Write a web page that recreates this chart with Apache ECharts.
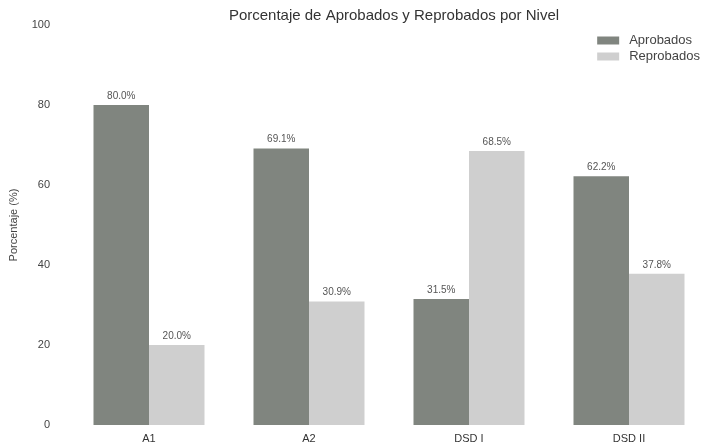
<!DOCTYPE html>
<html>
<head>
<meta charset="utf-8">
<script src="https://cdn.jsdelivr.net/npm/echarts@6/dist/echarts.min.js"></script>
<style>
  html, body { margin: 0; padding: 0; background: #fff; overflow: hidden; }
  /* a bit wider than the window: the reference crops the right margin */
  #chart { width: 712px; height: 447px; }
</style>
</head>
<body>
<div id="chart"></div>
<script>
const niveles = ["A1", "A2", "DSD I", "DSD II"];
const aprobados = [80.0, 69.1, 31.5, 62.2];
const reprobados = [20.0, 30.9, 68.5, 37.8];
const yTicks = [0, 20, 40, 60, 80, 100];

const font = "Liberation Sans, Arial, sans-serif";

const chart = echarts.init(document.getElementById("chart"), null, { renderer: "canvas" });

const valueLabel = {
  show: true,
  position: "top",
  distance: 4,
  formatter: (p) => p.value.toFixed(1) + "%",
  fontFamily: font,
  fontSize: 10,
  color: "#555",
};

chart.setOption({
  backgroundColor: "#fff",
  animation: false,
  title: {
    text: "Porcentaje de Aprobados y Reprobados por Nivel",
    left: 389,
    top: 3,
    textAlign: "center",
    textStyle: { fontFamily: font, fontSize: 15, fontWeight: "normal", color: "#333" },
  },
  legend: {
    right: 7,
    top: 29,
    orient: "vertical",
    itemWidth: 22,
    itemHeight: 8,
    itemGap: 3,
    icon: "rect",
    textStyle: { fontFamily: font, fontSize: 13, color: "#444", padding: [0, 0, 0, 5] },
    data: ["Aprobados", "Reprobados"],
  },
  grid: { left: 67, right: 3, top: 25, bottom: 22, containLabel: false },
  xAxis: {
    type: "category",
    data: niveles,
    axisLine: { show: false },
    axisTick: { show: false },
    axisLabel: { margin: 8, fontFamily: font, fontSize: 11, color: "#333" },
  },
  yAxis: {
    type: "value",
    min: yTicks[0],
    max: yTicks[yTicks.length - 1],
    interval: 20,
    name: "Porcentaje (%)",
    nameLocation: "middle",
    nameGap: 50,
    nameTextStyle: { fontFamily: font, fontSize: 11, color: "#444" },
    axisLine: { show: false },
    axisTick: { show: false },
    splitLine: { show: false },
    axisLabel: { margin: 19, fontFamily: font, fontSize: 11, color: "#444" },
  },
  series: [
    {
      name: "Aprobados",
      type: "bar",
      data: aprobados,
      barWidth: 55.5,
      barGap: "0%",
      itemStyle: { color: "#80857f" },
      label: valueLabel,
    },
    {
      name: "Reprobados",
      type: "bar",
      data: reprobados,
      barWidth: 55.5,
      itemStyle: { color: "#cfcfcf" },
      label: valueLabel,
    },
  ],
});
</script>
</body>
</html>
